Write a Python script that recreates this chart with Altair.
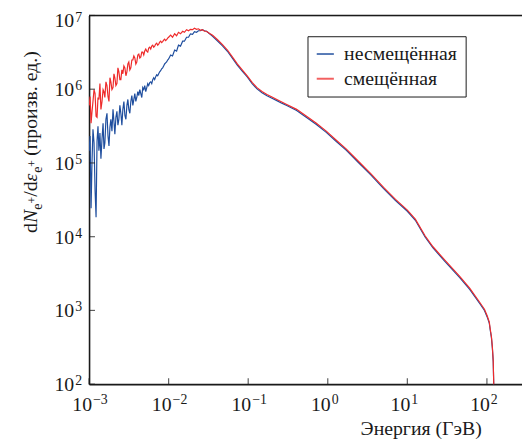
import altair as alt
import pandas as pd

# ---------------- data ----------------
energy_gev = [
    0.00100, 0.00103, 0.00106, 0.00109, 0.00112, 0.001155, 0.00119, 0.001225, 0.00126, 0.001295,
    0.00133, 0.00137, 0.00141, 0.001455, 0.00150, 0.00154, 0.00158, 0.00163, 0.00168, 0.00173,
    0.00178, 0.00183, 0.00188, 0.00194, 0.00200, 0.002055, 0.00211, 0.002175, 0.00224, 0.002305,
    0.00237, 0.00244, 0.00251, 0.002585, 0.00266, 0.00274, 0.00282, 0.002905, 0.00299, 0.003075,
    0.00316, 0.003255, 0.00335, 0.00345, 0.00355, 0.003655, 0.00376, 0.00387, 0.00398, 0.00410,
    0.00422, 0.004345, 0.00447, 0.00460, 0.00473, 0.00487, 0.00501, 0.00516, 0.00531, 0.005465,
    0.00562, 0.00579, 0.00596, 0.006135, 0.00631, 0.006495, 0.00668, 0.00688, 0.00708, 0.00729,
    0.00750, 0.00772, 0.00794, 0.008175, 0.00841, 0.00866, 0.00891, 0.00917, 0.00944, 0.00972,
    0.0100,
    0.0106, 0.0112, 0.0119, 0.0126, 0.0133, 0.0141, 0.0150, 0.0158, 0.0168, 0.0178,
    0.0188, 0.0200, 0.0211, 0.0224, 0.0237, 0.0251, 0.0266, 0.0282, 0.0299, 0.0316,
    0.0357, 0.0412, 0.0475, 0.0548, 0.0632, 0.0729, 0.0841, 0.0972, 0.112, 0.129,
    0.149, 0.172, 0.199, 0.229, 0.264, 0.305, 0.406, 0.541, 0.719, 0.957,
    1.27, 1.70, 2.39, 3.47, 5.03, 7.10, 10.0, 12.6, 16.7, 21.0,
    29.6, 45.5, 60.7, 80.7, 93.1, 101, 107, 110, 114, 117,
    120, 125,
]

unshifted = [
    1.46e5, 2.32e5, 2.43e4, 1.07e5, 2.87e5, 1.87e5, 4.24e4, 1.84e4, 1.98e5, 3.15e5,
    1.46e5, 2.54e5, 1.14e5, 2.11e5, 3.46e5, 1.55e5, 1.87e5, 3.91e5, 4.71e5, 2.32e5,
    1.70e5, 3.06e5, 3.91e5, 2.70e5, 5.33e5, 3.68e5, 2.46e5, 4.16e5, 5.01e5, 3.25e5,
    3.91e5, 6.03e5, 4.71e5, 3.25e5, 5.33e5, 6.82e5, 4.43e5, 3.91e5, 6.03e5, 7.26e5,
    5.33e5, 4.71e5, 6.82e5, 8.21e5, 6.03e5, 7.26e5, 8.73e5, 6.82e5, 7.72e5, 9.29e5,
    8.21e5, 9.88e5, 8.73e5, 7.72e5, 1.05e6, 9.88e5, 1.12e6, 9.29e5, 1.05e6, 1.19e6,
    1.12e6, 1.23e6, 1.26e6, 1.19e6, 1.35e6, 1.43e6, 1.35e6, 1.48e6, 1.57e6, 1.52e6,
    1.62e6, 1.72e6, 1.78e6, 1.89e6, 1.95e6, 2.07e6, 2.20e6, 2.27e6, 2.34e6, 2.49e6,
    2.57e6,
    2.91e6, 2.82e6, 3.40e6, 3.29e6, 3.96e6, 3.84e6, 4.48e6, 4.48e6, 5.07e6, 5.07e6,
    5.64e6, 5.56e6, 6.02e6, 5.91e6, 6.20e6, 6.20e6, 6.42e6, 6.20e6, 6.11e6, 5.84e6,
    5.20e6, 4.50e6, 3.88e6, 3.27e6, 2.64e6, 2.12e6, 1.76e6, 1.47e6, 1.19e6, 1.01e6,
    8.95e5, 8.15e5, 7.55e5, 7.00e5, 6.47e5, 6.00e5, 5.14e5, 4.14e5, 3.33e5, 2.60e5,
    1.97e5, 1.49e5, 1.03e5, 6.90e4, 4.49e4, 3.09e4, 2.21e4, 1.67e4, 9.9e3, 7.03e3,
    4.63e3, 2.78e3, 1.93e3, 1.25e3, 1.00e3, 8.10e2, 6.75e2, 5.43e2, 4.24e2, 3.11e2,
    2.02e2, 2.9e1,
]

shifted = [
    6.03e5, 7.96e5, 3.46e5, 5.01e5, 6.82e5, 9.88e5, 8.73e5, 4.29e5, 4.16e5, 7.72e5,
    7.26e5, 1.19e6, 5.33e5, 6.82e5, 9.88e5, 9.29e5, 7.72e5, 1.26e6, 1.12e6, 7.96e5,
    6.82e5, 1.43e6, 1.26e6, 9.88e5, 1.05e6, 1.62e6, 1.43e6, 1.12e6, 1.19e6, 1.95e6,
    1.72e6, 1.35e6, 1.35e6, 1.83e6, 1.62e6, 2.07e6, 1.95e6, 1.52e6, 1.72e6, 2.20e6,
    2.34e6, 1.83e6, 1.95e6, 2.49e6, 2.49e6, 2.82e6, 2.65e6, 2.20e6, 2.34e6, 2.91e6,
    3.00e6, 2.65e6, 2.74e6, 3.19e6, 3.19e6, 2.91e6, 3.29e6, 3.50e6, 3.29e6, 3.19e6,
    3.61e6, 3.72e6, 3.50e6, 3.84e6, 3.96e6, 3.72e6, 3.84e6, 4.09e6, 4.21e6, 3.96e6,
    4.09e6, 4.35e6, 4.48e6, 4.28e6, 4.41e6, 4.62e6, 4.77e6, 4.55e6, 4.69e6, 4.92e6,
    5.07e6,
    5.40e6, 5.07e6, 5.64e6, 5.31e6, 5.91e6, 5.64e6, 6.11e6, 5.91e6, 6.42e6, 6.20e6,
    6.49e6, 6.42e6, 6.70e6, 6.49e6, 6.60e6, 6.30e6, 6.42e6, 6.11e6, 6.11e6, 5.84e6,
    5.40e6, 4.69e6, 4.03e6, 3.40e6, 2.74e6, 2.20e6, 1.83e6, 1.52e6, 1.24e6, 1.05e6,
    9.29e5, 8.47e5, 7.84e5, 7.26e5, 6.71e5, 6.22e5, 5.33e5, 4.30e5, 3.46e5, 2.70e5,
    2.05e5, 1.55e5, 1.07e5, 7.16e4, 4.66e4, 3.21e4, 2.29e4, 1.73e4, 1.03e4, 7.30e3,
    4.81e3, 2.89e3, 2.00e3, 1.30e3, 1.04e3, 8.41e2, 7.00e2, 5.64e2, 4.40e2, 3.23e2,
    2.10e2, 3.0e1,
]

series_names = ["несмещённая", "смещённая"]
series_colors = ["#1f4e9e", "#ee2b2b"]

x_tick_values = [1e-3, 1e-2, 1e-1, 1e0, 1e1, 1e2]
x_tick_exponents = ["−3", "−2", "−1", "0", "1", "2"]
y_tick_values = [1e2, 1e3, 1e4, 1e5, 1e6, 1e7]
y_tick_exponents = ["2", "3", "4", "5", "6", "7"]

x_title = "Энергия (ГэВ)"

# ---------------- layout ----------------
W, H = 438, 373
X_DOMAIN = [1e-3, 276]
Y_DOMAIN = [1e2, 1e7]
FONT = "Liberation Serif, Times New Roman, DejaVu Serif, serif"
INK = "#1a1a1a"

rows = []
for name, vals in ((series_names[0], unshifted), (series_names[1], shifted)):
    for e, v in zip(energy_gev, vals):
        rows.append({"energy": e, "value": v, "series": name})
df = pd.DataFrame(rows)

xs = alt.Scale(type="log", domain=X_DOMAIN, nice=False)
ys = alt.Scale(type="log", domain=Y_DOMAIN, nice=False)
ax = alt.Axis(labels=False, ticks=False, grid=False, domainColor=INK, domainWidth=1.6, title=None)

color = alt.Color(
    "series:N",
    scale=alt.Scale(domain=series_names, range=series_colors),
    legend=alt.Legend(
        title=None, orient="none", legendX=221, legendY=21,
        strokeColor=INK, padding=8, fillColor="white",
        symbolType="stroke", symbolSize=300, symbolStrokeWidth=2, symbolOpacity=0.75,
        labelFont=FONT, labelFontSize=20, labelColor=INK, labelOffset=9,
        rowPadding=5, labelLimit=300,
    ),
)

def line_layer(name):
    return alt.Chart(df).transform_filter(alt.datum.series == name).mark_line(
        strokeWidth=1.2, clip=True
    ).encode(
        x=alt.X("energy:Q", scale=xs, axis=ax),
        y=alt.Y("value:Q", scale=ys, axis=ax),
        color=color,
    )

lines = line_layer(series_names[0]) + line_layer(series_names[1])

top_border = alt.Chart().mark_rule(color=INK, strokeWidth=1.6).encode(
    x=alt.datum(X_DOMAIN[0]), x2=alt.datum(X_DOMAIN[1]), y=alt.datum(Y_DOMAIN[1])
)

xt = pd.DataFrame({"v": x_tick_values, "e": x_tick_exponents})
yt = pd.DataFrame({"v": y_tick_values, "e": y_tick_exponents})

x_ticks = alt.Chart(xt).mark_tick(orient="vertical", size=6, thickness=1.2, color=INK, yOffset=-3).encode(
    x=alt.X("v:Q", scale=xs), y=alt.datum(Y_DOMAIN[0])
)
y_ticks = alt.Chart(yt).mark_tick(orient="horizontal", size=6, thickness=1.2, color=INK, xOffset=3).encode(
    y=alt.Y("v:Q", scale=ys), x=alt.datum(X_DOMAIN[0])
)

x_lab_base = alt.Chart(xt).mark_text(font=FONT, fontSize=20, color=INK, align="right", baseline="alphabetic", dx=3).encode(
    x=alt.X("v:Q", scale=xs), y=alt.value(H + 27), text=alt.value("10")
)
x_lab_exp = alt.Chart(xt).mark_text(font=FONT, fontSize=14, color=INK, align="left", baseline="alphabetic", dx=4).encode(
    x=alt.X("v:Q", scale=xs), y=alt.value(H + 20), text="e:N"
)

top_v = Y_DOMAIN[1]
y_lab_base = alt.Chart(yt).transform_filter(alt.datum.v < top_v).mark_text(
    font=FONT, fontSize=20, color=INK, align="right", baseline="alphabetic", dy=7
).encode(y=alt.Y("v:Q", scale=ys), x=alt.value(-15), text=alt.value("10"))
y_lab_exp = alt.Chart(yt).transform_filter(alt.datum.v < top_v).mark_text(
    font=FONT, fontSize=14, color=INK, align="left", baseline="alphabetic", dy=1
).encode(y=alt.Y("v:Q", scale=ys), x=alt.value(-14), text="e:N")
y_top_base = alt.Chart(yt).transform_filter(alt.datum.v >= top_v).mark_text(
    font=FONT, fontSize=20, color=INK, align="right", baseline="alphabetic", dy=12
).encode(y=alt.Y("v:Q", scale=ys), x=alt.value(-15), text=alt.value("10"))
y_top_exp = alt.Chart(yt).transform_filter(alt.datum.v >= top_v).mark_text(
    font=FONT, fontSize=14, color=INK, align="left", baseline="alphabetic", dy=7
).encode(y=alt.Y("v:Q", scale=ys), x=alt.value(-14), text="e:N")

x_title_mark = alt.Chart(pd.DataFrame({"t": [x_title]})).mark_text(
    font=FONT, fontSize=20, color=INK, align="center", baseline="alphabetic"
).encode(x=alt.value(336), y=alt.value(H + 51), text="t:N")

# y-axis title, built from pieces (rotated, reading upward)
# (text, start_y_abs, baseline_x_abs, size, style)
pieces = [
    ("d", 233, 37, 20, "normal"),
    ("N", 223, 37, 20, "italic"),
    ("e", 209.5, 42, 14, "normal"),
    ("+", 203.3, 36, 12, "normal"),
    ("/d", 196.5, 37, 20, "normal"),
    ("ε", 181, 37, 20, "italic"),
    ("e", 172.2, 42, 14, "normal"),
    ("+", 166, 36, 12, "normal"),
    ("(произв. ед.)", 155, 37, 20, "normal"),
]
title_layers = []
for txt, yy, xx, size, style in pieces:
    title_layers.append(
        alt.Chart(pd.DataFrame({"t": [txt]})).mark_text(
            font=FONT, fontSize=size, fontStyle=style, color=INK, angle=270,
            align="left", baseline="alphabetic",
        ).encode(x=alt.value(xx - 90), y=alt.value(yy - 13), text="t:N")
    )

chart = alt.layer(
    lines, top_border, x_ticks, y_ticks, x_lab_base, x_lab_exp,
    y_lab_base, y_lab_exp, y_top_base, y_top_exp,
    x_title_mark, *title_layers,
).properties(
    width=W, height=H,
    autosize=alt.AutoSizeParams(type="none"),
    padding={"left": 82, "top": 5, "right": 0, "bottom": 60},
).configure_view(stroke=None).configure_axis(titleOpacity=0).configure(background="white")

chart.save("out.html", embed_options={"renderer": "svg", "actions": False})
